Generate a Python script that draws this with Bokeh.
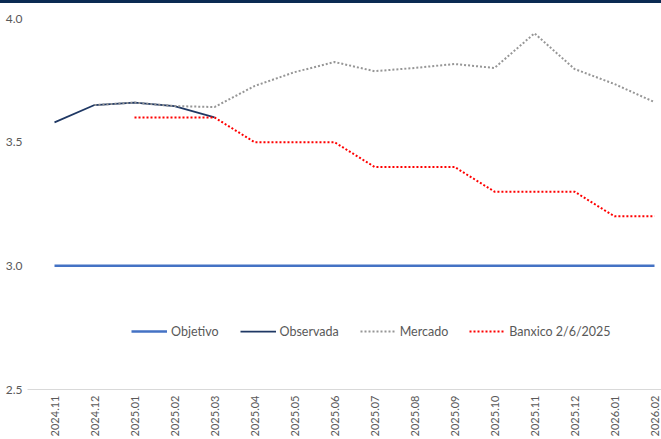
import math
from bokeh.plotting import figure
from bokeh.models import Range1d, FixedTicker, Legend, LegendItem, Div, ColumnDataSource
from bokeh.layouts import column
from bokeh.embed import file_html
from bokeh.resources import INLINE

nan = float("nan")

categories = ["2024.11", "2024.12", "2025.01", "2025.02", "2025.03", "2025.04",
              "2025.05", "2025.06", "2025.07", "2025.08", "2025.09", "2025.10",
              "2025.11", "2025.12", "2026.01", "2026.02"]
objetivo = [3.0] * 16
observada = [3.58, 3.65, 3.66, 3.646, 3.60, nan, nan, nan, nan, nan, nan, nan, nan, nan, nan, nan]
mercado = [nan, 3.65, 3.66, 3.646, 3.642, 3.727, 3.783, 3.824, 3.787, 3.80, 3.816, 3.80, 3.94, 3.796, 3.735, 3.662]
banxico = [nan, nan, 3.60, 3.60, 3.60, 3.50, 3.50, 3.50, 3.40, 3.40, 3.40, 3.30, 3.30, 3.30, 3.20, 3.20]
y_ticks = [2.5, 3.0, 3.5, 4.0]
y_tick_labels = ["2.5", "3.0", "3.5", "4.0"]

x = list(range(len(categories)))
src = ColumnDataSource(dict(x=x, objetivo=objetivo, observada=observada, mercado=mercado, banxico=banxico))

FONT = "Lato"
GRAY = "#595959"

p = figure(width=661, height=436, output_backend="svg", toolbar_location=None,
           x_range=Range1d(-0.675, 15.175), y_range=Range1d(2.5, 4.0),
           min_border_left=27, min_border_right=0, min_border_top=15, min_border_bottom=50)
p.outline_line_color = None
p.xgrid.visible = False
p.ygrid.visible = False

r_obj = p.line("x", "objetivo", source=src, line_color="#4472C4", line_width=2.5)
r_obs = p.line("x", "observada", source=src, line_color="#1F3864", line_width=1.75)
r_mer = p.line("x", "mercado", source=src, line_color="#969696", line_width=2, line_dash="2 2")
r_ban = p.line("x", "banxico", source=src, line_color="#FF0000", line_width=2, line_dash="2 2")

for ax in (p.xaxis, p.yaxis):
    ax.major_tick_out = 0
    ax.major_tick_in = 0
    ax.minor_tick_out = 0
    ax.minor_tick_in = 0
    ax.major_tick_line_color = None
    ax.minor_tick_line_color = None
    ax.axis_label_standoff = 0

p.yaxis.ticker = FixedTicker(ticks=y_ticks)
p.yaxis.major_label_overrides = {t: l for t, l in zip(y_ticks, y_tick_labels)}
p.yaxis.axis_line_color = None
p.yaxis.major_label_standoff = 5
p.yaxis.major_label_text_font = FONT
p.yaxis.major_label_text_font_size = "12px"
p.yaxis.major_label_text_color = GRAY

p.xaxis.ticker = FixedTicker(ticks=x)
p.xaxis.major_label_overrides = {i: c for i, c in zip(x, categories)}
p.xaxis.major_label_orientation = math.pi / 2
p.xaxis.axis_line_color = "#d9d9d9"
p.xaxis.axis_line_width = 1
p.xaxis.major_label_standoff = 6
p.xaxis.major_label_text_font = FONT
p.xaxis.major_label_text_font_size = "11px"
p.xaxis.major_label_text_color = GRAY

legend = Legend(items=[LegendItem(label="Objetivo", renderers=[r_obj]),
                       LegendItem(label="Observada", renderers=[r_obs]),
                       LegendItem(label="Mercado", renderers=[r_mer]),
                       LegendItem(label="Banxico 2/6/2025", renderers=[r_ban])],
                orientation="horizontal", location=(104, 50),
                border_line_color=None, background_fill_alpha=0,
                padding=0, margin=0, spacing=21, glyph_width=36, glyph_height=16,
                label_standoff=4, label_text_font=FONT, label_text_font_size="12.5px",
                label_text_color=GRAY)
p.add_layout(legend)

bar = Div(text="", width=661, height=3, margin=(0, 0, 0, 0),
          styles={"background-color": "#0b2a52"})
layout = column(bar, p, spacing=0)

open("out.html", "w").write(file_html(layout, INLINE))
